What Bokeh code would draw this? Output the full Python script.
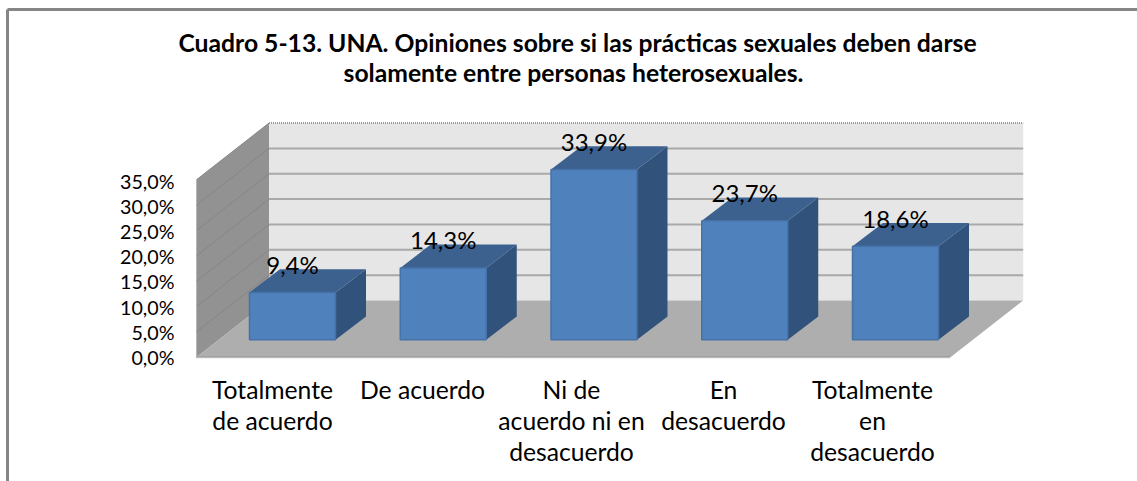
from bokeh.plotting import figure
from bokeh.embed import file_html
from bokeh.resources import INLINE
from bokeh.models import LinearAxis, FixedTicker, Range1d
from bokeh.core.properties import value

# ---- chart data ----
title_lines = ["Cuadro 5-13. UNA. Opiniones sobre si las prácticas sexuales deben darse",
               "solamente  entre personas heterosexuales."]
categories = ["Totalmente\nde acuerdo", "De acuerdo", "Ni de\nacuerdo ni en\ndesacuerdo",
              "En\ndesacuerdo", "Totalmente\nen\ndesacuerdo"]
values = [9.4, 14.3, 33.9, 23.7, 18.6]
value_labels = ["9,4%", "14,3%", "33,9%", "23,7%", "18,6%"]
y_ticks = [0, 5, 10, 15, 20, 25, 30, 35]
y_tick_labels = ["0,0%", "5,0%", "10,0%", "15,0%", "20,0%", "25,0%", "30,0%", "35,0%"]

# ---- layout (pixels) ----
W, H = 1137, 481
PX = 5.02            # pixels per percentage point
Y0 = 356.7           # screen y of 0 % at the front of the floor
FONT = "Lato"
def up(px):          # pixel distance -> percent units
    return px / PX

p = figure(width=W, height=H, output_backend="svg", toolbar_location=None,
           x_range=Range1d(0, W), y_range=Range1d((Y0 - H) / PX, Y0 / PX),
           min_border=0, x_axis_type=None, y_axis_type=None,
           margin=(0, 0, 0, 0), outline_line_color=None)
p.grid.visible = False

# outer frame
ytop = up(Y0 - 9)
ybot = up(Y0 - H)
p.line([7, 7], [ybot, ytop], line_color="#868686", line_width=3)
p.line([7, W], [ytop, ytop], line_color="#868686", line_width=3)

# title
p.text([577, 576], [up(Y0 - 42), up(Y0 - 72)], text=title_lines, text_font=value(FONT),
       text_font_size="24.7px", text_font_style="bold", text_align="center",
       text_baseline="middle", text_color="#000000")

# 3-D box
XL, XB, XR_B, XR_F = 196, 268.5, 1022.7, 950
DEPTH = up(56.7)
TOP = 35 * 1.01
p.patch([XB, XR_B, XR_B, XB], [DEPTH, DEPTH, DEPTH + TOP, DEPTH + TOP], fill_color="#E6E6E6", line_color=None)
p.patch([XL, XB, XB, XL], [0, DEPTH, DEPTH + TOP, TOP], fill_color="#929292", line_color=None)
p.patch([XL, XR_F, XR_B, XB], [0, 0, DEPTH, DEPTH], fill_color="#AEAEAE", line_color=None)
for t in y_ticks[1:]:
    yb = DEPTH + t * 1.01
    if t < 35:
        p.line([XB, XR_B], [yb, yb], line_color="#A9A9A9", line_width=2)
    p.line([XL, XB], [t * 1.01, yb], line_color="#868686", line_width=1)
p.line([XB, XR_B], [DEPTH + TOP] * 2, line_color="#9A9A9A", line_width=2, line_dash="1 1")
p.line([XL, XR_F], [0, 0], line_color="#8A8A8A", line_width=2, line_dash="1 1")
p.line([XL, XL], [0, TOP], line_color="#A5A5A5", line_width=1, line_dash="1 1")

# bars
BAR_X0, BAR_STEP, BAR_W = 249, 150.75, 86
DX, DY = 30.5, up(23.3)
FLOOR = up(Y0 - 339.2)
for i, v in enumerate(values):
    x0 = BAR_X0 + i * BAR_STEP
    x1 = x0 + BAR_W
    t = FLOOR + v
    p.patch([x1, x1 + DX, x1 + DX, x1], [FLOOR, FLOOR + DY, t + DY, t], fill_color="#31527A", line_color=None)
    p.patch([x0, x1, x1 + DX, x0 + DX], [t, t, t + DY, t + DY], fill_color="#3C618F", line_color=None)
    p.patch([x0, x1, x1, x0], [FLOOR, FLOOR, t, t], fill_color="#4F81BD", line_color="#4672A8", line_width=1.5)

# value labels
centres = [BAR_X0 + i * BAR_STEP + BAR_W / 2 for i in range(len(values))]
p.text(centres, [FLOOR + v for v in values], text=value_labels, y_offset=-28,
       text_font=value(FONT), text_font_size="24px", text_align="center",
       text_baseline="middle", text_color="#000000")

# axes
yaxis = LinearAxis(fixed_location=XL, ticker=FixedTicker(ticks=y_ticks),
                   major_label_overrides=dict(zip(y_ticks, y_tick_labels)),
                   major_label_text_font=FONT, major_label_text_font_size="19.7px",
                   major_label_text_color="#000000", major_label_standoff=16,
                   axis_line_color=None, major_tick_line_color=None, minor_tick_line_color=None)
p.add_layout(yaxis, "left")

label_x = [272, 422, 571, 723, 872]
xaxis = LinearAxis(fixed_location=up(Y0 - 365), ticker=FixedTicker(ticks=label_x),
                   major_label_overrides=dict(zip(label_x, categories)),
                   major_label_text_font=FONT, major_label_text_font_size="24.7px",
                   major_label_text_color="#000000", major_label_standoff=3,
                   major_label_text_line_height=1.08,
                   axis_line_color=None, major_tick_line_color=None, minor_tick_line_color=None)
p.add_layout(xaxis, "below")

open("out.html", "w").write(file_html(p, INLINE))
